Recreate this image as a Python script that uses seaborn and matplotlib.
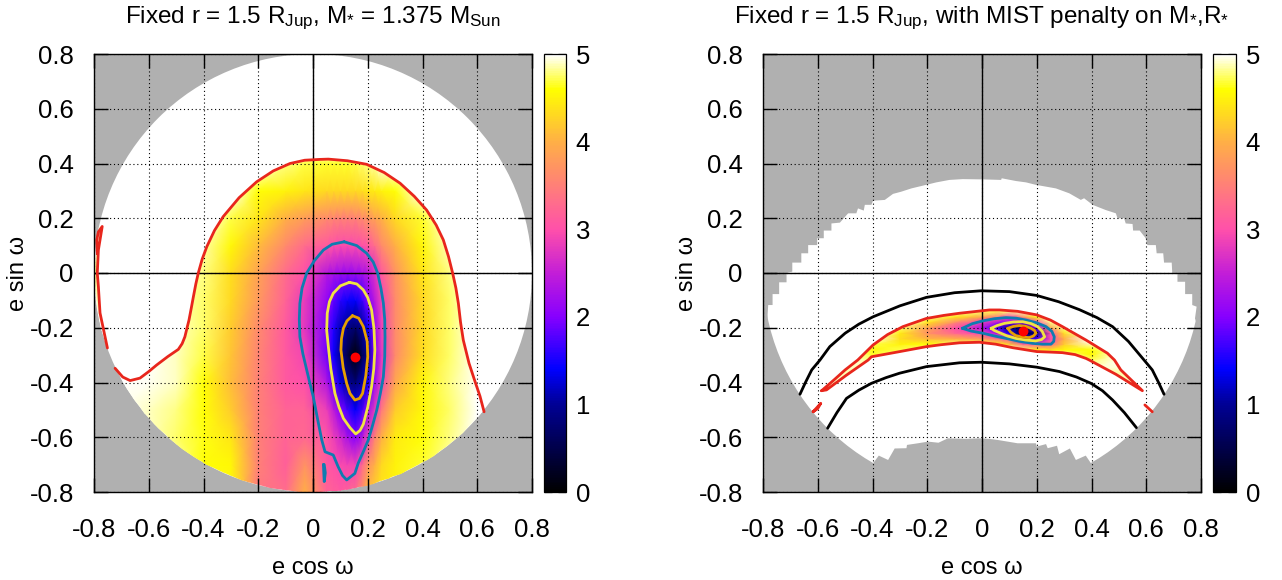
import numpy as np
import matplotlib
matplotlib.use("Agg")
import matplotlib.pyplot as plt
import seaborn as sns
from matplotlib.colors import LinearSegmentedColormap
from matplotlib.patches import Circle, Polygon

sns.set_style("ticks")
plt.rcParams['font.family'] = ['Liberation Sans', 'DejaVu Sans']
plt.rcParams['mathtext.default'] = 'regular'
plt.rcParams['text.color'] = 'black'
plt.rcParams['axes.labelcolor'] = 'black'
plt.rcParams['xtick.labelcolor'] = 'black'
plt.rcParams['ytick.labelcolor'] = 'black'

# left panel surface, rows go from bottom to top
left_x = [-.8, -.78, -.7, -.6, -.5, -.4, -.3, -.2, -.1, -.03, .05, .075, .1, .125, .155, .18, .2, .225, .25, .3, .4, .5, .6, .8]
left_y = [-.8, -.7, -.6, -.5, -.4, -.3, -.2, -.1, 0, .1, .2, .3, .4, .43, .8]
left_z = [
    [5, 5, 5, 5, 4.9, 4.65, 4.55, 3.4, 3.3, 4.0, 3.2, 3.15, 3.1, 3.15, 3.3, 3.7, 4.1, 4.25, 4.4, 4.5, 4.7, 4.9, 5, 5],
    [5, 5, 5, 5, 4.85, 4.6, 4.55, 3.5, 3.15, 3.7, 3.1, 3.0, 2.95, 2.9, 2.9, 3.25, 3.7, 4.0, 4.3, 4.5, 4.65, 4.85, 5, 5],
    [5, 5, 5, 4.9, 4.75, 4.62, 4.4, 3.5, 3.2, 3.25, 3.05, 2.85, 2.6, 2.3, 2.0, 2.4, 2.9, 3.5, 4.0, 4.45, 4.6, 4.8, 5, 5],
    [5, 5, 5, 4.9, 4.8, 4.6, 4.2, 3.5, 3.2, 3.2, 2.85, 2.45, 2.0, 1.7, 1.4, 1.7, 2.15, 2.8, 3.4, 4.2, 4.55, 4.75, 5, 5],
    [5, 5, 5, 4.97, 4.9, 4.6, 4.1, 3.5, 3.1, 3.0, 2.35, 1.8, 1.3, 1.0, .8, 1.1, 1.45, 2.1, 2.9, 3.9, 4.55, 4.8, 5, 5],
    [5, 5, 5, 5, 4.9, 4.7, 4.15, 3.55, 3.1, 2.9, 1.9, 1.45, 1.0, .5, .05, .55, 1.0, 1.95, 2.75, 3.6, 4.35, 4.75, 5, 5],
    [5, 5, 5, 5, 4.9, 4.75, 4.2, 3.6, 3.1, 2.75, 1.95, 1.55, 1.15, .9, .7, 1.0, 1.4, 2.1, 2.85, 3.6, 4.3, 4.75, 5, 5],
    [4.85, 4.9, 5, 5, 4.9, 4.75, 4.3, 3.75, 3.2, 2.8, 2.1, 1.85, 1.6, 1.45, 1.4, 1.65, 2.0, 2.4, 2.9, 3.6, 4.3, 4.75, 5, 5],
    [4.8, 4.9, 5, 5, 4.9, 4.8, 4.35, 3.85, 3.3, 3.0, 2.4, 2.3, 2.2, 2.15, 2.2, 2.25, 2.4, 2.7, 3.1, 3.7, 4.4, 4.8, 5, 5],
    [4.85, 4.9, 5, 5, 5, 4.85, 4.55, 4.1, 3.6, 3.3, 3.1, 3.0, 2.95, 2.95, 2.95, 3.0, 3.1, 3.3, 3.6, 4.0, 4.55, 4.9, 5, 5],
    [5, 5, 5, 5, 5, 5, 4.7, 4.4, 4.0, 3.8, 3.6, 3.55, 3.5, 3.5, 3.5, 3.6, 3.7, 3.85, 4.0, 4.3, 4.65, 5, 5, 5],
    [5, 5, 5, 5, 5, 5, 5, 4.6, 4.5, 4.4, 4.3, 4.3, 4.3, 4.3, 4.3, 4.35, 4.4, 4.45, 4.5, 4.6, 5, 5, 5, 5],
    [5, 5, 5, 5, 5, 5, 5, 5, 4.8, 4.7, 4.65, 4.65, 4.65, 4.65, 4.7, 4.75, 4.8, 4.85, 5, 5, 5, 5, 5, 5],
    [5, 5, 5, 5, 5, 5, 5, 5, 5, 4.85, 4.85, 4.85, 4.85, 4.85, 4.85, 4.9, 5, 5, 5, 5, 5, 5, 5, 5],
    [5] * 24,
]

# right panel surface, only the banana shaped band
right_x = [-.6, -.5, -.4, -.3, -.2, -.1, -.05, 0, .05, .1, .15, .2, .25, .3, .4, .5, .6]
right_y = [-.44, -.42, -.40, -.38, -.36, -.34, -.32, -.30, -.28, -.26, -.24, -.22, -.20, -.18, -.16, -.14, -.12]
right_z = [
    [4.9] * 17,
    [4.9, 4.9, 5, 5, 5, 5, 5, 5, 5, 5, 5, 5, 5, 5, 5, 4.9, 4.9],
    [4.9, 4.9, 5, 5, 5, 5, 5, 5, 5, 5, 5, 5, 5, 5, 5, 4.9, 4.9],
    [4.9, 4.9, 5, 5, 5, 5, 5, 5, 5, 5, 5, 5, 5, 5, 4.95, 4.85, 4.9],
    [4.9, 4.85, 4.95, 5, 5, 5, 5, 5, 5, 5, 5, 5, 5, 5, 4.95, 4.85, 4.9],
    [4.9, 4.9, 4.9, 5, 5, 5, 5, 5, 5, 5, 5, 5, 5, 5, 4.9, 4.95, 5],
    [5, 5, 4.8, 5, 5, 5, 5, 5, 5, 5, 5, 5, 5, 5, 4.75, 5, 5],
    [5, 5, 4.65, 4.9, 5, 5, 5, 5, 5, 5, 5, 4.9, 4.85, 4.85, 4.55, 5, 5],
    [5, 5, 4.55, 4.7, 4.85, 5, 5, 5, 5, 5, 4.75, 4.5, 4.4, 4.55, 4.6, 5, 5],
    [5, 5, 4.7, 4.5, 4.6, 4.75, 4.7, 4.7, 4.5, 4.2, 3.3, 3.1, 3.2, 4.2, 4.9, 5, 5],
    [5, 5, 4.95, 4.35, 4.05, 4.0, 3.9, 3.8, 3.4, 2.95, 1.5, 1.7, 2.95, 4.0, 5, 5, 5],
    [5, 5, 5, 4.45, 3.7, 3.25, 3.05, 2.95, 2.4, 1.5, .2, .95, 3.0, 4.35, 5, 5, 5],
    [5, 5, 5, 4.75, 3.85, 3.0, 2.75, 2.3, 1.75, .95, .6, 2.0, 3.9, 4.8, 5, 5, 5],
    [5, 5, 5, 5, 4.4, 3.6, 3.25, 2.85, 2.4, 2.05, 2.1, 3.0, 4.8, 5, 5, 5, 5],
    [5, 5, 5, 5, 4.8, 4.4, 4.2, 3.9, 3.5, 2.95, 3.7, 4.6, 5, 5, 5, 5, 5],
    [5, 5, 5, 5, 5, 4.85, 4.8, 4.75, 4.7, 4.8, 4.9, 5, 5, 5, 5, 5, 5],
    [5] * 17,
]

# left panel contours
left_red_a_x = [-.788, -.79, -.784, -.77, -.784, -.788, -.784, -.778, -.751]
left_red_a_y = [.07, .12, .15, .17, .084, 0, -.05, -.146, -.274]
left_red_b_x = [-.723, -.695, -.668, -.632, -.6, -.571, -.53, -.492, -.478, -.468, -.46, -.453, -.445, -.437, -.428,
                -.419, -.405, -.388, -.36, -.328, -.27, -.206, -.145, -.084, -.03, .026, .056, .126, .196, .26, .318,
                .37, .415, .45, .476, .495, .51, .522, .531, .539, .549, .57, .592, .61, .625]
left_red_b_y = [-.348, -.38, -.393, -.384, -.36, -.336, -.305, -.279, -.258, -.233, -.2, -.172, -.13, -.087, -.04,
                0, .05, .096, .155, .206, .275, .333, .373, .4, .412, .415, .416, .41, .397, .367, .328,
                .28, .23, .175, .121, .06, 0, -.055, -.111, -.18, -.245, -.33, -.397, -.45, -.507]
left_blue_x = [.114, .07, .038, .005, -.023, -.04, -.048, -.05, -.048, -.037, -.023, -.012, .001, .016, .032, .044, .074,
               .092, .108, .123, .153, .165, .185, .202, .218, .233, .246, .257, .262, .263, .262, .257, .248, .236,
               .22, .196, .16, .114]
left_blue_y = [.114, .105, .084, .045, 0, -.055, -.111, -.17, -.233, -.295, -.354, -.4, -.452, -.53, -.61, -.653, -.665,
               -.708, -.74, -.756, -.732, -.695, -.65, -.61, -.555, -.5, -.44, -.379, -.305, -.233, -.17, -.11, -.055, 0,
               .04, .072, .1, .114]
left_blue_small_x = [.038, .041, .045, .041, .038]
left_blue_small_y = [-.70, -.762, -.73, -.70, -.70]
left_yellow_x = [.133, .1, .074, .06, .052, .05, .056, .065, .08, .095, .111, .135, .156, .172, .184, .2, .214, .222,
                 .226, .223, .214, .2, .184, .16, .133]
left_yellow_y = [-.034, -.047, -.074, -.105, -.147, -.21, -.269, -.35, -.44, -.49, -.531, -.565, -.588, -.575, -.552,
                 -.49, -.415, -.35, -.281, -.205, -.135, -.09, -.062, -.04, -.034]
left_orange_x = [.144, .124, .111, .104, .102, .11, .123, .135, .153, .17, .181, .193, .2, .198, .184, .167, .144]
left_orange_y = [-.156, -.175, -.202, -.24, -.281, -.345, -.403, -.44, -.464, -.458, -.44, -.375, -.306, -.25, -.196,
                 -.165, -.156]
left_sliver_x = [-.78, -.77, -.784, -.788, -.784, -.778, -.751, -.775, -.79, -.8, -.79]
left_sliver_y = [.17, .17, .084, 0, -.05, -.146, -.274, -.2, -.12, 0, .1]
left_best = (.155, -.307)

# right panel contours
upper_arc_x = [-.665, -.645, -.622, -.592, -.556, -.5, -.45, -.398, -.3, -.203, -.1, -.003, .1, .2, .28, .356, .42,
               .477, .535, .592, .622, .645, .665]
upper_arc_y = [-.443, -.40, -.354, -.318, -.269, -.22, -.187, -.16, -.12, -.089, -.072, -.065, -.068, -.082, -.105,
               -.134, -.163, -.196, -.25, -.318, -.354, -.40, -.443]
lower_arc_x = [-.564, -.53, -.495, -.45, -.404, -.35, -.301, -.203, -.082, -.003, .1, .2, .283, .345, .398, .44, .477,
               .52, .564]
lower_arc_y = [-.567, -.51, -.458, -.428, -.403, -.382, -.366, -.342, -.328, -.326, -.332, -.344, -.36, -.38, -.403,
               -.43, -.464, -.51, -.565]
right_red_x = [-.586, -.54, -.5, -.454, -.398, -.345, -.289, -.203, -.14, -.082, .027, .064, .13, .2, .25, .294, .38,
               .458, .484, .507, .586, .489, .392, .38, .34, .294, .25, .2, .113, .05, -.009, -.082, -.15, -.203, -.3,
               -.404, -.416, -.495, -.568, -.586]
right_red_y = [-.43, -.39, -.354, -.318, -.263, -.225, -.196, -.166, -.155, -.147, -.135, -.135, -.14, -.153, -.172,
               -.196, -.245, -.293, -.318, -.354, -.43, -.37, -.318, -.312, -.298, -.291, -.289, -.287, -.273, -.26,
               -.253, -.255, -.262, -.269, -.287, -.306, -.318, -.373, -.427, -.43]
island_left_x = [-.617, -.589, -.60, -.617]
island_left_y = [-.507, -.476, -.495, -.507]
island_right_x = [.595, .622]
island_right_y = [-.482, -.507]
right_blue_x = [-.072, -.035, .003, .045, .088, .125, .161, .2, .234, .255, .264, .262, .252, .22, .185, .135, .088, .045,
                .003, -.04, -.072]
right_blue_y = [-.202, -.185, -.175, -.167, -.163, -.165, -.172, -.182, -.196, -.213, -.233, -.25, -.26, -.26, -.257,
                -.249, -.239, -.23, -.22, -.212, -.202]
right_yellow_x = [.033, .055, .082, .115, .149, .18, .203, .22, .229, .218, .196, .16, .124, .09, .064, .045, .033]
right_yellow_y = [-.202, -.192, -.184, -.179, -.178, -.185, -.196, -.213, -.233, -.243, -.248, -.245, -.239, -.229,
                  -.218, -.21, -.202]
right_orange_x = [.094, .115, .137, .16, .179, .192, .197, .188, .173, .148, .124, .105, .094]
right_orange_y = [-.202, -.195, -.192, -.195, -.202, -.21, -.22, -.23, -.236, -.234, -.229, -.216, -.202]
right_best = (.149, -.212)

# allowed region of the right panel, the jagged edge comes from the grid
allowed_x = [-.784, -.781, -.765, -.765, -.741, -.741, -.714, -.714, -.693, -.693, -.66, -.66, -.635, -.635, -.602,
             -.602, -.578, -.578, -.55, -.55, -.519, -.489, -.459, -.453, -.432, -.428, -.404, -.398, -.355, -.325,
             -.295, -.258, -.204, -.167, -.119, -.07, -.003, .003, .07, .072, .124, .161, .197, .27, .319, .361,
             .373, .404, .452, .489, .495, .519, .525, .55, .552, .576, .598, .604, .635, .638, .662, .665, .693,
             .695, .714, .714, .742, .742, .768, .768, .784, .778, .85, .5, .4, .379, .343, .321, .282, .274, .24,
             .234, .2, .197, .13, .094, .058, .027, -.009, -.058, -.125, -.159, -.197, -.234, -.274, -.276, -.319,
             -.343, -.377, -.4, -.5, -.85]
allowed_y = [-.166, -.117, -.117, -.077, -.077, -.034, -.034, 0, .005, .038, .038, .072, .072, .102, .102,
             .127, .127, .155, .155, .181, .184, .218, .218, .236, .228, .249, .249, .264, .267, .289,
             .297, .309, .322, .331, .34, .343, .342, .342, .34, .346, .336, .331, .322, .309, .291, .267,
             .273, .249, .23, .218, .2, .2, .181, .179, .155, .155, .127, .102, .102, .072, .072, .038, .038,
             0, 0, -.032, -.032, -.077, -.077, -.117, -.123, -.166, -.4, -.75, -.698, -.667, -.683, -.641, -.662, -.631, -.64,
             -.625, -.634, -.622, -.622, -.616, -.61, -.606, -.604, -.606, -.604, -.62, -.616, -.622, -.628, -.64, -.641,
             -.683, -.667, -.698, -.75, -.4]

tick_values = [-.8, -.6, -.4, -.2, 0, .2, .4, .6, .8]
tick_labels = ['-0.8', '-0.6', '-0.4', '-0.2', '0', '0.2', '0.4', '0.6', '0.8']
cbar_ticks = [0, 1, 2, 3, 4, 5]

GREY = '#b0b0b0'
RED = '#e8261c'
BLUE = '#0f7cb0'
YELLOW = '#f0e442'
ORANGE = '#e69f00'

palette = LinearSegmentedColormap.from_list('chi', [
    (0, (0, 0, 0)),
    (1 / 5, (0, 0, 150 / 255)),
    (1.4 / 5, (0, 0, 1)),
    (2 / 5, (135 / 255, 0, 1)),
    (2.5 / 5, (195 / 255, 30 / 255, 215 / 255)),
    (3 / 5, (1, 80 / 255, 170 / 255)),
    (4 / 5, (1, 175 / 255, 70 / 255)),
    (4.6 / 5, (1, 1, 0)),
    (1, (1, 1, 1)),
])

W, H = 1282, 580
fig = plt.figure(figsize=(W / 100, H / 100), dpi=100)


def contour(ax, xs, ys, color):
    sns.lineplot(x=xs, y=ys, sort=False, estimator=None, color=color, lw=2, ax=ax, zorder=5, legend=False)


def make_panel(px_left, cbar_left, cbar_width, title):
    ax = fig.add_axes([px_left / W, (H - 492) / H, 438 / W, 438 / H])
    ax.set_facecolor(GREY)
    ax.set_xlim(-.8, .8)
    ax.set_ylim(-.8, .8)
    ax.set_xticks(tick_values, tick_labels)
    ax.set_yticks(tick_values, tick_labels)
    ax.tick_params(direction='in', length=10, width=1, top=True, right=True, labelsize=18.5, color='black')
    ax.tick_params(axis='x', pad=18.5)
    ax.tick_params(axis='y', pad=14.5)
    ax.grid(True, color='black', lw=.8, ls=(0, (1, 2.5)), zorder=3)
    ax.set_axisbelow(False)
    ax.axhline(0, color='black', lw=1, zorder=4)
    ax.axvline(0, color='black', lw=1, zorder=4)
    ax.set_xlabel('e cos ω', fontsize=17, labelpad=11)
    ax.set_ylabel('e sin ω', fontsize=17, labelpad=0)
    ax.set_title(title, fontsize=17.5, pad=22)
    for s in ax.spines.values():
        s.set_linewidth(1)
        s.set_zorder(6)
        s.set_color('black')
    cax = fig.add_axes([cbar_left / W, (H - 492) / H, cbar_width / W, 438 / H])
    return ax, cax


def finish_cbar(mesh, cax):
    cb = fig.colorbar(mesh, cax=cax)
    cb.set_ticks(cbar_ticks)
    cb.outline.set_linewidth(.9)
    cb.outline.set_edgecolor('black')
    cax.tick_params(direction='in', length=6, width=.9, left=True, right=True, labelsize=18.5, pad=7, color='black')


# left panel
ax1, cax1 = make_panel(94, 544, 22, r'Fixed r = 1.5 R$_{Jup}$, M$_{*}$ = 1.375 M$_{Sun}$')
ax1.add_patch(Circle((0, 0), .8, facecolor='white', edgecolor='none', zorder=.5))
angles = np.radians(np.linspace(-39, -154, 60))
mask_x = left_red_b_x + list(.8 * np.cos(angles))
mask_y = left_red_b_y + list(.8 * np.sin(angles))
mesh1 = ax1.pcolormesh(left_x, left_y, np.array(left_z), shading='gouraud', cmap=palette, vmin=0, vmax=5, zorder=1)
mesh1.set_clip_path(Polygon(np.column_stack([mask_x, mask_y]), transform=ax1.transData))
sliver = ax1.pcolormesh(left_x, left_y, np.array(left_z), shading='gouraud', cmap=palette, vmin=0, vmax=5, zorder=1)
sliver.set_clip_path(Polygon(np.column_stack([left_sliver_x, left_sliver_y]), transform=ax1.transData))
contour(ax1, left_red_a_x, left_red_a_y, RED)
contour(ax1, left_red_b_x, left_red_b_y, RED)
contour(ax1, left_blue_x, left_blue_y, BLUE)
contour(ax1, left_blue_small_x, left_blue_small_y, BLUE)
contour(ax1, left_yellow_x, left_yellow_y, YELLOW)
contour(ax1, left_orange_x, left_orange_y, ORANGE)
sns.scatterplot(x=[left_best[0]], y=[left_best[1]], color='#ff0000', s=50, linewidth=0, ax=ax1, zorder=7)
finish_cbar(mesh1, cax1)

# right panel
ax2, cax2 = make_panel(763, 1213, 23, r'Fixed r = 1.5 R$_{Jup}$, with MIST penalty on M$_{*}$,R$_{*}$')
region = Polygon(np.column_stack([allowed_x, allowed_y]), closed=True, facecolor='white', edgecolor='none', zorder=.5)
ax2.add_patch(region)
region.set_clip_path(Circle((0, 0), .8, transform=ax2.transData))
mesh2 = ax2.pcolormesh(right_x, right_y, np.array(right_z), shading='gouraud', cmap=palette, vmin=0, vmax=5, zorder=1)
mesh2.set_clip_path(Polygon(np.column_stack([right_red_x, right_red_y]), transform=ax2.transData))
contour(ax2, upper_arc_x, upper_arc_y, 'black')
contour(ax2, lower_arc_x, lower_arc_y, 'black')
contour(ax2, right_red_x, right_red_y, RED)
contour(ax2, island_left_x, island_left_y, RED)
contour(ax2, island_right_x, island_right_y, RED)
contour(ax2, right_blue_x, right_blue_y, BLUE)
contour(ax2, right_yellow_x, right_yellow_y, YELLOW)
contour(ax2, right_orange_x, right_orange_y, ORANGE)
sns.scatterplot(x=[right_best[0]], y=[right_best[1]], color='#ff0000', s=50, linewidth=0, ax=ax2, zorder=7)
finish_cbar(mesh2, cax2)

fig.savefig('out.png', dpi=100)
